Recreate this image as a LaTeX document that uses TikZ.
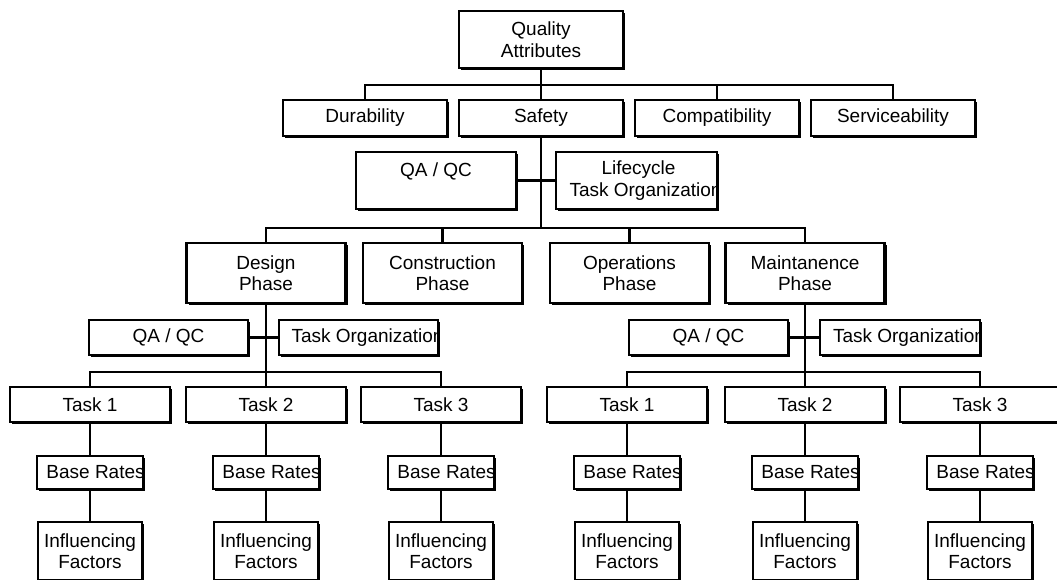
\documentclass[tikz,border=0pt]{standalone}
\usepackage{fontspec}
\setmainfont{Liberation Sans}
\usetikzlibrary{shadows}
\begin{document}
\begin{tikzpicture}[x=1pt,y=-1pt,
  txt/.style={inner sep=0pt, align=center, font=\fontsize{19}{21.5}\selectfont},
  box/.style={draw=black, line width=2.1pt, fill=white, inner sep=0pt, txt,
    drop shadow={shadow xshift=2.4pt,shadow yshift=-2.4pt,fill=black,opacity=1}},
  wide/.style={box, minimum width=164pt},
  phase/.style={box, minimum width=159pt, minimum height=60pt},
  sub/.style={box, minimum width=159pt, minimum height=35pt},
  task/.style={box, minimum width=160pt, minimum height=35pt},
  rate/.style={box, minimum width=106pt, minimum height=33pt},
  infl/.style={box, minimum width=104pt, minimum height=58pt},
  leftclipped/.style 2 args={path picture={\node[txt,anchor=west] at ([xshift=#1]path picture bounding box.west) {#2};}},
  link/.style={line width=2.3pt}]
\useasboundingbox (0,0) rectangle (1057,579);

% level 0 and 1
\node[wide, minimum height=57pt] (qa) at (541,39.5) {Quality\\Attributes};
\node[wide, minimum height=36pt] (dur) at (365,118) {Durability};
\node[wide, minimum height=36pt] (saf) at (541,118) {Safety};
\node[wide, minimum height=36pt] (com) at (717,118) {Compatibility};
\node[wide, minimum height=36pt] (ser) at (893,118) {Serviceability};

% level 2
\node[box, minimum width=160pt, minimum height=57pt,
  path picture={\node[txt] at ([yshift=9pt]path picture bounding box.center) {QA / QC};}] (qc0) at (436,180.5) {};
\node[box, minimum width=161pt, minimum height=57pt,
  path picture={
    \node[txt] at ([xshift=2pt,yshift=10.5pt]path picture bounding box.center) {Lifecycle};
    \node[txt,anchor=west] at ([xshift=8pt,yshift=-11pt]path picture bounding box.west) {Task Organization};}] (lc0) at (636.5,180.5) {};

% phases
\node[phase] (des) at (266,273) {Design\\Phase};
\node[phase] (con) at (442.5,273) {Construction\\Phase};
\node[phase] (ope) at (629.5,273) {Operations\\Phase};
\node[phase] (mai) at (805,273) {Maintanence\\Phase};

% sub boxes
\node[sub] (qcd) at (168.5,337.5) {QA / QC};
\node[sub, leftclipped={8pt}{Task Organization}] (tod) at (358.5,337.5) {};
\node[sub] (qcm) at (708.5,337.5) {QA / QC};
\node[sub, minimum width=160pt, leftclipped={8pt}{Task Organization}] (tom) at (900,337.5) {};

% tasks, rates, factors
\foreach \n/\x/\t in {1/90/Task 1, 2/266/Task 2, 3/441/Task 3, 4/627/Task 1, 5/805/Task 2, 6/980/Task 3} {
  \node[task] (t\n) at (\x,404.5) {\t};
  \node[rate, leftclipped={4.5pt}{Base Rates}] (r\n) at (\x,472.5) {};
  \node[infl] (f\n) at (\x,551) {Influencing\\Factors};
  \draw[link] (t\n.south) -- (r\n.north);
  \draw[link] (r\n.south) -- (f\n.north);
}

% connectors
\coordinate (b1) at (541,85);
\coordinate (b2) at (541,228);
\coordinate (b3l) at (266,372);
\coordinate (b3r) at (805,372);

\draw[link] (qa.south) -- (saf.north);
\draw[link] (b1) -| (dur.north);
\draw[link] (b1) -| (com.north);
\draw[link] (b1) -| (ser.north);

\draw[link] (saf.south) -- (b2);
\draw[link] (qc0.east) -- (lc0.west);
\draw[link] (b2) -| (des.north);
\draw[link] (b2) -| (con.north);
\draw[link] (b2) -| (ope.north);
\draw[link] (b2) -| (mai.north);

\draw[link] (des.south) -- (b3l);
\draw[link] (qcd.east) -- (tod.west);
\draw[link] (b3l) -| (t1.north);
\draw[link] (b3l) -- (t2.north);
\draw[link] (b3l) -| (t3.north);

\draw[link] (mai.south) -- (b3r);
\draw[link] (qcm.east) -- (tom.west);
\draw[link] (b3r) -| (t4.north);
\draw[link] (b3r) -- (t5.north);
\draw[link] (b3r) -| (t6.north);
\end{tikzpicture}
\end{document}
